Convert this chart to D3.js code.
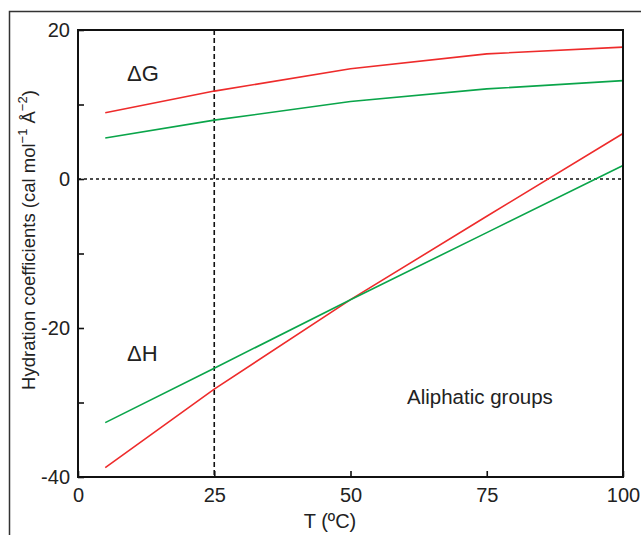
<!DOCTYPE html>
<html>
<head>
<meta charset="utf-8">
<script src="https://cdn.jsdelivr.net/npm/d3@7"></script>
<style>
  body { margin: 0; background: #fff; }
  svg { display: block; font-family: "Liberation Sans", Arial, sans-serif; }
</style>
</head>
<body>
<div class="diagram-canvas"></div>
<script>
const temps = [5, 25, 50, 75, 100];
const dGRed = [8.9, 11.8, 14.8, 16.8, 17.7];
const dGGreen = [5.5, 7.9, 10.4, 12.1, 13.2];
const dHRed = [-38.75, -28.2, -16.2, -5.0, 6.1];
const dHGreen = [-32.7, -25.4, -16.2, -7.2, 1.8];
const xTicks = [0, 25, 50, 75, 100];
const yTicks = [20, 10, 0, -10, -20, -30, -40];
const yLabels = [20, 0, -20, -40];

function drawChart() {
  let width = 641,
    height = 535;
  let left = 78, right = 623, top = 30, bottom = 477;

  let red = "#ee2b2b", green = "#0aa54a";

  let xScale = d3.scaleLinear().domain([0, 100]).range([left, right]);
  let yScale = d3.scaleLinear().domain([-40, 20]).range([bottom, top]);

  let svg = d3
    .select(".diagram-canvas")
    .append("svg")
    .attr("width", width)
    .attr("height", height);

  // outer frame
  svg
    .append("path")
    .attr("d", "M9.5," + height + "V11.5H" + width)
    .attr("fill", "none")
    .attr("stroke", "#333")
    .attr("stroke-width", 1.5);

  // reference lines
  svg
    .append("line")
    .attr("x1", xScale(25))
    .attr("x2", xScale(25))
    .attr("y1", top)
    .attr("y2", bottom)
    .attr("stroke", "#111")
    .attr("stroke-width", 1.6)
    .attr("stroke-dasharray", "5,3");
  svg
    .append("line")
    .attr("x1", left)
    .attr("x2", right)
    .attr("y1", yScale(0))
    .attr("y2", yScale(0))
    .attr("stroke", "#111")
    .attr("stroke-width", 1.6)
    .attr("stroke-dasharray", "3,3");

  let line = (vals) =>
    d3
      .line()
      .x((d, i) => xScale(temps[i]))
      .y((d) => yScale(d))(vals);

  let series = [
    { vals: dGRed, color: red },
    { vals: dGGreen, color: green },
    { vals: dHRed, color: red },
    { vals: dHGreen, color: green },
  ];
  svg
    .selectAll("path.series")
    .data(series)
    .enter()
    .append("path")
    .attr("class", "series")
    .attr("d", (d) => line(d.vals))
    .attr("fill", "none")
    .attr("stroke", (d) => d.color)
    .attr("stroke-width", 1.6);

  // plot frame
  svg
    .append("rect")
    .attr("x", left)
    .attr("y", top)
    .attr("width", right - left)
    .attr("height", bottom - top)
    .attr("fill", "none")
    .attr("stroke", "#111")
    .attr("stroke-width", 2);

  // ticks (inward)
  let xAxis = d3
    .axisBottom(xScale)
    .tickValues(xTicks)
    .tickSize(-6)
    .tickPadding(11)
    .tickFormat(d3.format("d"));
  let gx = svg
    .append("g")
    .attr("transform", "translate(0," + bottom + ")")
    .call(xAxis);
  gx.select(".domain").remove();
  gx.selectAll(".tick line").attr("stroke", "#111").attr("stroke-width", 1.6);
  gx.selectAll(".tick text")
    .style("font-size", "20px")
    .attr("fill", "#222");

  let yAxis = d3
    .axisLeft(yScale)
    .tickValues(yTicks)
    .tickSize(-6)
    .tickPadding(8)
    .tickFormat((d) => (yLabels.includes(d) ? d : ""));
  let gy = svg
    .append("g")
    .attr("transform", "translate(" + left + ",0)")
    .call(yAxis);
  gy.select(".domain").remove();
  gy.selectAll(".tick line").attr("stroke", "#111").attr("stroke-width", 1.6);
  gy.selectAll(".tick text")
    .style("font-size", "20px")
    .attr("fill", "#222");

  // axis titles
  svg
    .append("text")
    .attr("x", 330)
    .attr("y", 528)
    .attr("text-anchor", "middle")
    .style("font-size", "20px")
    .attr("fill", "#222")
    .text("T (ºC)");

  let yt = svg
    .append("text")
    .attr("transform", "translate(35,240) rotate(-90)")
    .attr("text-anchor", "middle")
    .style("font-size", "18.5px")
    .attr("fill", "#222");
  yt.append("tspan").text("Hydration coefficients (cal mol");
  yt.append("tspan").attr("dy", -8).style("font-size", "13px").text("−1");
  yt.append("tspan").attr("dy", 8).text(" Å");
  yt.append("tspan").attr("dy", -8).style("font-size", "13px").text("−2");
  yt.append("tspan").attr("dy", 8).text(")");

  // annotations
  let notes = [
    { text: "ΔG", x: 127, y: 81, size: 22 },
    { text: "ΔH", x: 127, y: 361, size: 22 },
    { text: "Aliphatic groups", x: 407, y: 404, size: 20.5 },
  ];
  svg
    .selectAll("text.note")
    .data(notes)
    .enter()
    .append("text")
    .attr("class", "note")
    .attr("x", (d) => d.x)
    .attr("y", (d) => d.y)
    .style("font-size", (d) => d.size + "px")
    .attr("fill", "#222")
    .text((d) => d.text);
}

drawChart();
</script>
</body>
</html>
